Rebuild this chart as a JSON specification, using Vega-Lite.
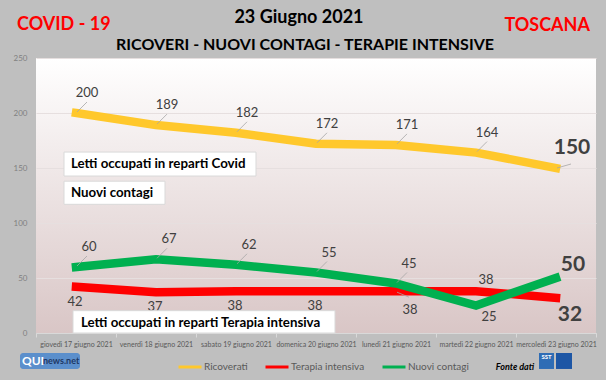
{
  "$schema": "https://vega.github.io/schema/vega-lite/v6.json",
  "width": 560,
  "height": 275,
  "autosize": {"type": "none"},
  "padding": {"left": 36, "top": 58, "right": 10, "bottom": 47},
  "background": "#bfbfbf",
  "config": {
    "view": {
      "stroke": null,
      "fill": {"gradient": "linear", "x1": 0, "y1": 0, "x2": 0, "y2": 1,
        "stops": [{"offset": 0, "color": "#ffffff"}, {"offset": 1, "color": "#d9c6c6"}]}
    },
    "font": "Lato"
  },
  "data": {
    "values": [
      {"day": "giovedì 17 giugno 2021", "series": "Ricoverati", "value": 200},
      {"day": "venerdì 18 giugno 2021", "series": "Ricoverati", "value": 189},
      {"day": "sabato 19 giugno 2021", "series": "Ricoverati", "value": 182},
      {"day": "domenica 20 giugno 2021", "series": "Ricoverati", "value": 172},
      {"day": "lunedì 21 giugno 2021", "series": "Ricoverati", "value": 171},
      {"day": "martedì 22 giugno 2021", "series": "Ricoverati", "value": 164},
      {"day": "mercoledì 23 giugno 2021", "series": "Ricoverati", "value": 150},
      {"day": "giovedì 17 giugno 2021", "series": "Terapia intensiva", "value": 42},
      {"day": "venerdì 18 giugno 2021", "series": "Terapia intensiva", "value": 37},
      {"day": "sabato 19 giugno 2021", "series": "Terapia intensiva", "value": 38},
      {"day": "domenica 20 giugno 2021", "series": "Terapia intensiva", "value": 38},
      {"day": "lunedì 21 giugno 2021", "series": "Terapia intensiva", "value": 38},
      {"day": "martedì 22 giugno 2021", "series": "Terapia intensiva", "value": 38},
      {"day": "mercoledì 23 giugno 2021", "series": "Terapia intensiva", "value": 32},
      {"day": "giovedì 17 giugno 2021", "series": "Nuovi contagi", "value": 60},
      {"day": "venerdì 18 giugno 2021", "series": "Nuovi contagi", "value": 67},
      {"day": "sabato 19 giugno 2021", "series": "Nuovi contagi", "value": 62},
      {"day": "domenica 20 giugno 2021", "series": "Nuovi contagi", "value": 55},
      {"day": "lunedì 21 giugno 2021", "series": "Nuovi contagi", "value": 45},
      {"day": "martedì 22 giugno 2021", "series": "Nuovi contagi", "value": 25},
      {"day": "mercoledì 23 giugno 2021", "series": "Nuovi contagi", "value": 50}
    ]
  },
  "layer": [
    {
      "mark": {"type": "line", "strokeWidth": 8.5, "strokeCap": "square"},
      "encoding": {
        "x": {
          "field": "day", "type": "nominal",
          "scale": {"type": "band", "paddingInner": 0, "paddingOuter": 0, "domain": ["giovedì 17 giugno 2021", "venerdì 18 giugno 2021", "sabato 19 giugno 2021", "domenica 20 giugno 2021", "lunedì 21 giugno 2021", "martedì 22 giugno 2021", "mercoledì 23 giugno 2021"]},
          "axis": {"title": null, "labelAngle": 0, "labelFont": "Lato", "labelFontSize": 7, "labelColor": "#595959", "labelOverlap": false, "labelFlush": false, "labelPadding": 3, "tickBand": "extent", "tickColor": "#d9d9d9", "tickSize": 4, "domainColor": "#d9d9d9", "grid": false}
        },
        "y": {
          "field": "value", "type": "quantitative",
          "scale": {"domain": [0, 250], "nice": false},
          "axis": {"title": null, "values": [0, 50, 100, 150, 200, 250], "labelFont": "Lato", "labelFontSize": 8, "labelColor": "#7f7f7f", "labelPadding": 9, "ticks": false, "domain": false, "gridColor": "#e6dfdf", "gridWidth": 1}
        },
        "color": {
          "field": "series", "type": "nominal",
          "scale": {"domain": ["Ricoverati", "Terapia intensiva", "Nuovi contagi"], "range": ["#ffc82c", "#ff0000", "#00b050"]},
          "legend": {"orient": "none", "legendX": 141, "legendY": 296, "direction": "horizontal", "title": null, "symbolType": "stroke", "symbolStrokeWidth": 3, "symbolSize": 529, "labelFont": "Lato", "labelFontSize": 10, "labelColor": "#595959", "labelOffset": 1, "columnPadding": 11, "padding": 0}
        }
      }
    },
    {
      "transform": [{"filter": "(datum.series == 'Ricoverati' || (datum.series == 'Nuovi contagi' && datum.day != 'martedì 22 giugno 2021')) && datum.day != 'mercoledì 23 giugno 2021'"}],
      "mark": {"type": "rule", "color": "#a6a6a6", "strokeWidth": 0.8, "xOffset": 1, "yOffset": -1, "x2Offset": 11, "y2Offset": -11},
      "encoding": {"x": {"field": "day", "type": "nominal"}, "y": {"field": "value", "type": "quantitative"}, "x2": {"field": "day"}, "y2": {"field": "value"}}
    },
    {
      "transform": [{"filter": "datum.series == 'Terapia intensiva' && datum.day == 'lunedì 21 giugno 2021'"}],
      "mark": {"type": "rule", "color": "#a6a6a6", "strokeWidth": 0.8, "xOffset": 1, "yOffset": 1, "x2Offset": 13, "y2Offset": 6},
      "encoding": {"x": {"field": "day", "type": "nominal"}, "y": {"field": "value", "type": "quantitative"}, "x2": {"field": "day"}, "y2": {"field": "value"}}
    },
    {
      "transform": [{"filter": "datum.series == 'Ricoverati' && datum.day == 'mercoledì 23 giugno 2021'"}],
      "mark": {"type": "rule", "color": "#a6a6a6", "strokeWidth": 0.8, "xOffset": 1, "yOffset": 0, "x2Offset": 15, "y2Offset": -4},
      "encoding": {"x": {"field": "day", "type": "nominal"}, "y": {"field": "value", "type": "quantitative"}, "x2": {"field": "day"}, "y2": {"field": "value"}}
    },
    {
      "transform": [{"filter": "datum.series == 'Ricoverati' && datum.day != 'mercoledì 23 giugno 2021'"}],
      "mark": {"type": "text", "dx": 11, "dy": -20, "fontSize": 13, "color": "#404040", "baseline": "middle"},
      "encoding": {"x": {"field": "day", "type": "nominal"}, "y": {"field": "value", "type": "quantitative"}, "text": {"field": "value"}}
    },
    {
      "transform": [{"filter": "datum.series == 'Ricoverati' && datum.day == 'mercoledì 23 giugno 2021'"}],
      "mark": {"type": "text", "dx": 16, "dy": -20, "fontSize": 21, "fontWeight": "bold", "color": "#404040", "baseline": "middle"},
      "encoding": {"x": {"field": "day", "type": "nominal"}, "y": {"field": "value", "type": "quantitative"}, "text": {"field": "value"}}
    },
    {
      "transform": [{"filter": "datum.series == 'Terapia intensiva' && indexof(['giovedì 17 giugno 2021','venerdì 18 giugno 2021','sabato 19 giugno 2021','domenica 20 giugno 2021'], datum.day) >= 0"}],
      "mark": {"type": "text", "dx": -1, "dy": 15, "fontSize": 13, "color": "#404040", "baseline": "middle"},
      "encoding": {"x": {"field": "day", "type": "nominal"}, "y": {"field": "value", "type": "quantitative"}, "text": {"field": "value"}}
    },
    {
      "transform": [{"filter": "datum.series == 'Terapia intensiva' && datum.day == 'lunedì 21 giugno 2021'"}],
      "mark": {"type": "text", "dx": 14, "dy": 19, "fontSize": 13, "color": "#404040", "baseline": "middle"},
      "encoding": {"x": {"field": "day", "type": "nominal"}, "y": {"field": "value", "type": "quantitative"}, "text": {"field": "value"}}
    },
    {
      "transform": [{"filter": "datum.series == 'Terapia intensiva' && datum.day == 'martedì 22 giugno 2021'"}],
      "mark": {"type": "text", "dx": 10, "dy": -11, "fontSize": 13, "color": "#404040", "baseline": "middle"},
      "encoding": {"x": {"field": "day", "type": "nominal"}, "y": {"field": "value", "type": "quantitative"}, "text": {"field": "value"}}
    },
    {
      "transform": [{"filter": "datum.series == 'Terapia intensiva' && datum.day == 'mercoledì 23 giugno 2021'"}],
      "mark": {"type": "text", "dx": 14, "dy": 17, "fontSize": 21, "fontWeight": "bold", "color": "#404040", "baseline": "middle"},
      "encoding": {"x": {"field": "day", "type": "nominal"}, "y": {"field": "value", "type": "quantitative"}, "text": {"field": "value"}}
    },
    {
      "transform": [{"filter": "datum.series == 'Nuovi contagi' && datum.day != 'martedì 22 giugno 2021' && datum.day != 'mercoledì 23 giugno 2021'"}],
      "mark": {"type": "text", "dx": 13, "dy": -20, "fontSize": 13, "color": "#404040", "baseline": "middle"},
      "encoding": {"x": {"field": "day", "type": "nominal"}, "y": {"field": "value", "type": "quantitative"}, "text": {"field": "value"}}
    },
    {
      "transform": [{"filter": "datum.series == 'Nuovi contagi' && datum.day == 'martedì 22 giugno 2021'"}],
      "mark": {"type": "text", "dx": 13, "dy": 11, "fontSize": 13, "color": "#404040", "baseline": "middle"},
      "encoding": {"x": {"field": "day", "type": "nominal"}, "y": {"field": "value", "type": "quantitative"}, "text": {"field": "value"}}
    },
    {
      "transform": [{"filter": "datum.series == 'Nuovi contagi' && datum.day == 'mercoledì 23 giugno 2021'"}],
      "mark": {"type": "text", "dx": 17, "dy": -13, "fontSize": 21, "fontWeight": "bold", "color": "#404040", "baseline": "middle"},
      "encoding": {"x": {"field": "day", "type": "nominal"}, "y": {"field": "value", "type": "quantitative"}, "text": {"field": "value"}}
    },
    {
      "data": {"values": [{}]},
      "mark": {"type": "rect", "fill": "#ffffff", "stroke": "#d9d9d9", "strokeWidth": 1, "xOffset": -12, "x2Offset": 20},
      "encoding": {
        "x": {"datum": "giovedì 17 giugno 2021", "type": "nominal", "bandPosition": 0.5},
        "x2": {"datum": "sabato 19 giugno 2021", "bandPosition": 0.5},
        "y": {"datum": 164.5, "type": "quantitative"},
        "y2": {"datum": 142.7}
      }
    },
    {
      "data": {"values": [{}]},
      "mark": {"type": "rect", "fill": "#ffffff", "stroke": "#d9d9d9", "strokeWidth": 1, "xOffset": -12, "x2Offset": 9},
      "encoding": {
        "x": {"datum": "giovedì 17 giugno 2021", "type": "nominal", "bandPosition": 0.5},
        "x2": {"datum": "venerdì 18 giugno 2021", "bandPosition": 0.5},
        "y": {"datum": 138, "type": "quantitative"},
        "y2": {"datum": 117}
      }
    },
    {
      "data": {"values": [{}]},
      "mark": {"type": "rect", "fill": "#ffffff", "stroke": "#d9d9d9", "strokeWidth": 1, "xOffset": -3, "x2Offset": 19},
      "encoding": {
        "x": {"datum": "giovedì 17 giugno 2021", "type": "nominal", "bandPosition": 0.5},
        "x2": {"datum": "domenica 20 giugno 2021", "bandPosition": 0.5},
        "y": {"datum": 20.3, "type": "quantitative"},
        "y2": {"datum": 0}
      }
    },
    {
      "data": {"values": [{"t": "Letti occupati in reparti Covid"}]},
      "mark": {"type": "text", "align": "left", "baseline": "middle", "dx": -5, "fontSize": 13.3, "fontWeight": "bold", "color": "#000000"},
      "encoding": {
        "x": {"datum": "giovedì 17 giugno 2021", "type": "nominal", "bandPosition": 0.5},
        "y": {"datum": 153.8, "type": "quantitative"},
        "text": {"field": "t"}
      }
    },
    {
      "data": {"values": [{"t": "Nuovi contagi"}]},
      "mark": {"type": "text", "align": "left", "baseline": "middle", "dx": -5, "fontSize": 13.3, "fontWeight": "bold", "color": "#000000"},
      "encoding": {
        "x": {"datum": "giovedì 17 giugno 2021", "type": "nominal", "bandPosition": 0.5},
        "y": {"datum": 127.7, "type": "quantitative"},
        "text": {"field": "t"}
      }
    },
    {
      "data": {"values": [{"t": "Letti occupati in reparti Terapia intensiva"}]},
      "mark": {"type": "text", "align": "left", "baseline": "middle", "dx": 5, "fontSize": 13.3, "fontWeight": "bold", "color": "#000000"},
      "encoding": {
        "x": {"datum": "giovedì 17 giugno 2021", "type": "nominal", "bandPosition": 0.5},
        "y": {"datum": 9.5, "type": "quantitative"},
        "text": {"field": "t"}
      }
    },
    {
      "data": {"values": [{"t": "23 Giugno 2021"}]},
      "mark": {"type": "text", "align": "center", "baseline": "middle", "dx": -17, "fontSize": 18, "fontWeight": "bold", "color": "#000000"},
      "encoding": {
        "x": {"datum": "domenica 20 giugno 2021", "type": "nominal", "bandPosition": 0.5},
        "y": {"datum": 286.4, "type": "quantitative"},
        "text": {"field": "t"}
      }
    },
    {
      "data": {"values": [{"t": "RICOVERI - NUOVI CONTAGI - TERAPIE INTENSIVE"}]},
      "mark": {"type": "text", "align": "center", "baseline": "middle", "dx": -11, "fontSize": 16, "fontWeight": "bold", "color": "#000000"},
      "encoding": {
        "x": {"datum": "domenica 20 giugno 2021", "type": "nominal", "bandPosition": 0.5},
        "y": {"datum": 261.8, "type": "quantitative"},
        "text": {"field": "t"}
      }
    },
    {
      "data": {"values": [{"t": "COVID - 19"}]},
      "mark": {"type": "text", "align": "left", "baseline": "middle", "dx": -59, "fontSize": 18, "fontWeight": "bold", "color": "#ff0000"},
      "encoding": {
        "x": {"datum": "giovedì 17 giugno 2021", "type": "nominal", "bandPosition": 0.5},
        "y": {"datum": 280, "type": "quantitative"},
        "text": {"field": "t"}
      }
    },
    {
      "data": {"values": [{"t": "TOSCANA"}]},
      "mark": {"type": "text", "align": "right", "baseline": "middle", "dx": 34, "fontSize": 18, "fontWeight": "bold", "color": "#ff0000"},
      "encoding": {
        "x": {"datum": "mercoledì 23 giugno 2021", "type": "nominal", "bandPosition": 0.5},
        "y": {"datum": 279, "type": "quantitative"},
        "text": {"field": "t"}
      }
    },
    {
      "data": {"values": [{"t": "Fonte dati"}]},
      "mark": {"type": "text", "align": "center", "baseline": "middle", "dx": -41, "fontSize": 9, "fontWeight": "bold", "fontStyle": "italic", "color": "#000000"},
      "encoding": {
        "x": {"datum": "mercoledì 23 giugno 2021", "type": "nominal", "bandPosition": 0.5},
        "y": {"datum": -30.9, "type": "quantitative"},
        "text": {"field": "t"}
      }
    },
    {
      "data": {"values": [{}]},
      "mark": {"type": "rect", "fill": "#2f6db5", "xOffset": -17, "x2Offset": -2},
      "encoding": {
        "x": {"datum": "mercoledì 23 giugno 2021", "type": "nominal", "bandPosition": 0.5},
        "x2": {"datum": "mercoledì 23 giugno 2021", "bandPosition": 0.5},
        "y": {"datum": -18.2, "type": "quantitative"},
        "y2": {"datum": -32.7}
      }
    },
    {
      "data": {"values": [{}]},
      "mark": {"type": "rect", "fill": "#1d56a5", "xOffset": 0, "x2Offset": 16},
      "encoding": {
        "x": {"datum": "mercoledì 23 giugno 2021", "type": "nominal", "bandPosition": 0.5},
        "x2": {"datum": "mercoledì 23 giugno 2021", "bandPosition": 0.5},
        "y": {"datum": -18.2, "type": "quantitative"},
        "y2": {"datum": -32.7}
      }
    },
    {
      "data": {"values": [{"t": "SST"}]},
      "mark": {"type": "text", "align": "center", "baseline": "middle", "dx": -9.5, "dy": -4, "fontSize": 6, "fontWeight": "bold", "color": "#ffffff"},
      "encoding": {
        "x": {"datum": "mercoledì 23 giugno 2021", "type": "nominal", "bandPosition": 0.5},
        "y": {"datum": -25.5, "type": "quantitative"},
        "text": {"field": "t"}
      }
    },
    {
      "data": {"values": [{}]},
      "mark": {"type": "rect", "fill": "#5b8fcc", "cornerRadius": 3, "xOffset": -56, "x2Offset": 4},
      "encoding": {
        "x": {"datum": "giovedì 17 giugno 2021", "type": "nominal", "bandPosition": 0.5},
        "x2": {"datum": "giovedì 17 giugno 2021", "bandPosition": 0.5},
        "y": {"datum": -18.2, "type": "quantitative"},
        "y2": {"datum": -32.7}
      }
    },
    {
      "data": {"values": [{"t": "QUI"}]},
      "mark": {"type": "text", "align": "left", "baseline": "middle", "dx": -54, "fontSize": 12, "fontWeight": "bold", "color": "#ffffff"},
      "encoding": {
        "x": {"datum": "giovedì 17 giugno 2021", "type": "nominal", "bandPosition": 0.5},
        "y": {"datum": -25.5, "type": "quantitative"},
        "text": {"field": "t"}
      }
    },
    {
      "data": {"values": [{"t": "news.net"}]},
      "mark": {"type": "text", "align": "left", "baseline": "middle", "dx": -33, "fontSize": 9, "fontWeight": "bold", "color": "#1f3864"},
      "encoding": {
        "x": {"datum": "giovedì 17 giugno 2021", "type": "nominal", "bandPosition": 0.5},
        "y": {"datum": -25.5, "type": "quantitative"},
        "text": {"field": "t"}
      }
    }
  ]
}
